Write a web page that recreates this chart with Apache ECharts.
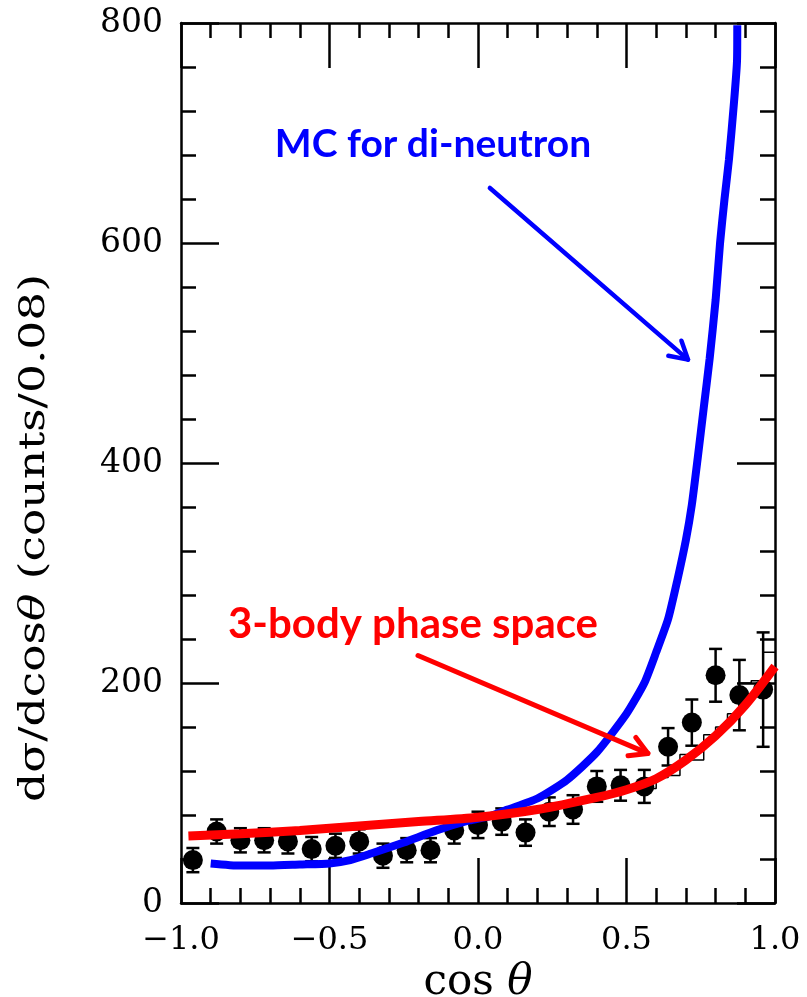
<!DOCTYPE html>
<html>
<head>
<meta charset="utf-8">
<title>dσ/dcosθ</title>
<script src="https://cdn.jsdelivr.net/npm/echarts@6/dist/echarts.min.js"></script>
<style>
  html, body { margin: 0; padding: 0; background: #ffffff; }
  #chart { width: 807px; height: 997px; }
</style>
</head>
<body>
<div id="chart"></div>
<script>
// Measured angular distribution, bin width 0.08
const binCenters = [-0.96, -0.88, -0.80, -0.72, -0.64, -0.56, -0.48, -0.40, -0.32, -0.24,
                    -0.16, -0.08, 0.00, 0.08, 0.16, 0.24, 0.32, 0.40, 0.48, 0.56,
                    0.64, 0.72, 0.80, 0.88, 0.96];
const counts = [39, 65, 57, 57, 56, 49, 52, 56, 43, 48,
                48, 66, 71, 74, 64, 83, 85, 106, 107, 106,
                142, 164, 207, 189, 194];
const countErrors = [11, 11, 11, 11, 11, 11, 11, 11, 11, 11,
                     11, 12, 12, 12, 12, 13, 13, 14, 14, 15,
                     17, 21, 24, 32, 52];

// Fine-binned histogram near cosθ = 1 (thin step line)
const histEdges = [0.56, 0.60, 0.64, 0.68, 0.72, 0.76, 0.80, 0.84, 0.88, 0.92, 0.96, 1.00];
const histCounts = [104, 114, 116, 135, 130, 153, 160, 172, 200, 202, 228];

// Monte Carlo curve for di-neutron emission
const mcX = [-0.90, -0.80, -0.70, -0.60, -0.50, -0.43, -0.36, -0.25, -0.14, -0.03,
             0.04, 0.10, 0.20, 0.30, 0.40, 0.50, 0.56, 0.60, 0.64, 0.67,
             0.70, 0.72, 0.74, 0.76, 0.78, 0.80, 0.815, 0.83, 0.845, 0.862, 0.872, 0.873];
const mcY = [36, 34, 34, 35, 36, 39, 45, 55, 66, 75,
             79, 85, 95, 112, 137, 172, 200, 228, 258, 292,
             330, 362, 405, 450, 495, 548, 600, 640, 676, 728, 765, 798];

// 3-body phase space curve
const psX = [-0.975, -0.8, -0.6, -0.4, -0.2, 0.0, 0.2, 0.4, 0.5, 0.6, 0.7, 0.8, 0.9, 1.0];
const psY = [61, 63, 66, 70, 74, 78, 85, 96, 103, 113, 130, 152, 180, 215];

// Axis ticks
const xTicks = [-1.0, -0.5, 0.0, 0.5, 1.0];
const yTicks = [0, 200, 400, 600, 800];

// Annotation anchors in data coordinates
const mcLabel = { text: 'MC for di-neutron', at: [-0.684, 672], size: 39 };
const mcArrow = { from: [0.040, 650], to: [0.707, 494] };
const psLabel = { text: '3-body phase space', at: [-0.842, 234], size: 42 };
const psArrow = { from: [-0.202, 225], to: [0.572, 136] };

const BLUE = '#0000ff';
const RED = '#ff0000';
const serif = '"DejaVu Serif", "Liberation Serif", serif';

const points = binCenters.map((x, i) => [x, counts[i], countErrors[i]]);
const mcLine = mcX.map((x, i) => [x, mcY[i]]);
const psLine = psX.map((x, i) => [x, psY[i]]);
const histLine = [];
histCounts.forEach((c, i) => {
  histLine.push([histEdges[i], c]);
  histLine.push([histEdges[i + 1], c]);
});

const chart = echarts.init(document.getElementById('chart'), null, { renderer: 'canvas' });

const axisLine = { show: true, onZero: false, lineStyle: { color: '#000', width: 2.5 } };

function xAxisBase(pos, showLabels) {
  return {
    type: 'value', position: pos, min: -1, max: 1, interval: 0.5,
    axisLine: axisLine,
    axisTick: { show: true, inside: true, length: 45, lineStyle: { color: '#000', width: 2.5 } },
    minorTick: { show: true, splitNumber: 5, length: 15, lineStyle: { color: '#000', width: 2.5 } },
    splitLine: { show: false },
    axisLabel: {
      show: showLabels, margin: 22,
      fontFamily: serif, fontSize: 32, color: '#000',
      formatter: v => xTicks.indexOf(v) >= 0 ? v.toFixed(1).replace('-', '\u2212') : ''
    }
  };
}
function yAxisBase(pos, showLabels) {
  return {
    type: 'value', position: pos, min: 0, max: 800, interval: 200,
    axisLine: axisLine,
    axisTick: { show: true, inside: true, length: 38, lineStyle: { color: '#000', width: 2.5 } },
    minorTick: { show: true, splitNumber: 5, length: 15, lineStyle: { color: '#000', width: 2.5 } },
    splitLine: { show: false },
    axisLabel: {
      show: showLabels, margin: 18,
      fontFamily: serif, fontSize: 33, color: '#000',
      formatter: v => yTicks.indexOf(v) >= 0 ? String(v) : ''
    }
  };
}

const xBottom = xAxisBase('bottom', true);
xBottom.name = '{r|cos }{i|θ}';
xBottom.nameLocation = 'middle';
xBottom.nameGap = 50;
xBottom.nameTextStyle = {
  rich: {
    r: { fontFamily: serif, fontSize: 42, color: '#000' },
    i: { fontFamily: serif, fontSize: 42, fontStyle: 'italic', color: '#000' }
  }
};

chart.setOption({
  animation: false,
  backgroundColor: '#ffffff',
  grid: { left: 181, right: 32, top: 23, bottom: 94, containLabel: false, outerBoundsMode: 'none' },
  xAxis: [xBottom, xAxisBase('top', false)],
  yAxis: [yAxisBase('left', true), yAxisBase('right', false)],
  series: [
    {
      name: 'histogram', type: 'line', data: histLine, showSymbol: false, z: 2,
      lineStyle: { color: '#000', width: 1.5 }
    },
    {
      name: 'errors', type: 'custom', z: 3,
      data: points,
      encode: { x: 0, y: 1 },
      renderItem: function (params, api) {
        const x = api.value(0), y = api.value(1), e = api.value(2);
        const top = api.coord([x, y + e]);
        const bot = api.coord([x, y - e]);
        const cap = 6.5;
        const style = { stroke: '#000', lineWidth: 2.5 };
        return {
          type: 'group',
          children: [
            { type: 'line', shape: { x1: top[0], y1: top[1], x2: bot[0], y2: bot[1] }, style: style },
            { type: 'line', shape: { x1: top[0] - cap, y1: top[1], x2: top[0] + cap, y2: top[1] }, style: style },
            { type: 'line', shape: { x1: bot[0] - cap, y1: bot[1], x2: bot[0] + cap, y2: bot[1] }, style: style }
          ]
        };
      }
    },
    {
      name: 'data', type: 'scatter', z: 4, data: points.map(p => [p[0], p[1]]),
      symbol: 'circle', symbolSize: 20, itemStyle: { color: '#000', opacity: 1 }
    },
    {
      name: 'MC for di-neutron', type: 'line', data: mcLine, smooth: 0.2, showSymbol: false, z: 5,
      lineStyle: { color: BLUE, width: 8 }
    },
    {
      name: '3-body phase space', type: 'line', data: psLine, smooth: 0.3, showSymbol: false, z: 6,
      lineStyle: { color: RED, width: 9 }
    }
  ]
});

// Annotations: labels and open-head arrows, placed through the grid's coordinate system
function px(p) { return chart.convertToPixel({ gridIndex: 0 }, p); }
function arrow(a, color, width) {
  const s = px(a.from), t = px(a.to);
  const ang = Math.atan2(t[1] - s[1], t[0] - s[0]);
  const head = 20, spread = Math.PI / 6;
  const h1 = [t[0] - head * Math.cos(ang - spread), t[1] - head * Math.sin(ang - spread)];
  const h2 = [t[0] - head * Math.cos(ang + spread), t[1] - head * Math.sin(ang + spread)];
  const style = { stroke: color, lineWidth: width, lineCap: 'round', lineJoin: 'round', fill: null };
  return [
    { type: 'line', z: 10, shape: { x1: s[0], y1: s[1], x2: t[0], y2: t[1] }, style: style },
    { type: 'polyline', z: 10, shape: { points: [h1, t, h2] }, style: style }
  ];
}
function label(l, color) {
  const p = px(l.at);
  return {
    type: 'text', z: 10, x: p[0], y: p[1],
    style: {
      text: l.text, fill: color, fontFamily: 'Lato, "Open Sans", sans-serif',
      fontWeight: 'bold', fontSize: l.size, align: 'left', verticalAlign: 'bottom'
    }
  };
}

chart.setOption({
  graphic: [
    label(mcLabel, BLUE),
    ...arrow(mcArrow, BLUE, 4.5),
    label(psLabel, RED),
    ...arrow(psArrow, RED, 5),
    {
      type: 'text', z: 10, x: 35, y: 538, rotation: Math.PI / 2, scaleX: 1.3,
      style: {
        text: 'dσ/dcos{i|θ} (counts/0.08)',
        rich: { i: { fontFamily: serif, fontSize: 35, fontStyle: 'italic', fill: '#000' } },
        fontFamily: serif, fontSize: 35, fill: '#000',
        align: 'center', verticalAlign: 'middle'
      }
    }
  ]
});
</script>
</body>
</html>
